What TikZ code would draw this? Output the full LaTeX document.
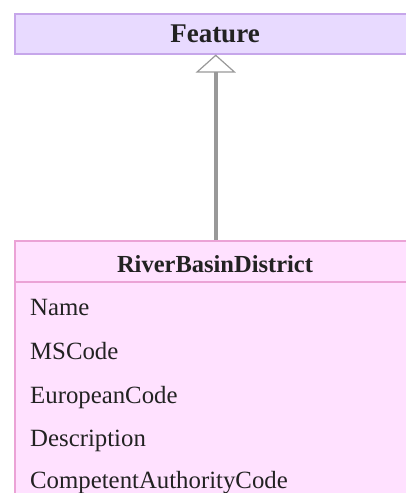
\documentclass[tikz,border=0pt]{standalone}
\usepackage{fontspec}
\setmainfont{Liberation Serif}
\usetikzlibrary{arrows.meta}
\definecolor{featfill}{HTML}{E8DAFF}
\definecolor{featdraw}{HTML}{C6A6EA}
\definecolor{rbdfill}{HTML}{FFE1FF}
\definecolor{rbddraw}{HTML}{EBA3D6}
\definecolor{conn}{HTML}{999999}
\definecolor{txt}{HTML}{222222}
\tikzset{
  classbox/.style={draw, line width=1.5pt, rectangle, inner sep=0pt},
  head/.style={font=\fontsize{24.5}{28}\selectfont\bfseries, text=txt},
  attr/.style={font=\fontsize{24.8}{28}\selectfont, text=txt, anchor=base west, inner sep=0pt},
}
\begin{document}
\begin{tikzpicture}[x=1pt,y=-1pt]
\useasboundingbox (0,0) rectangle (406,493);
\clip (0,0) rectangle (406,493);
\node[classbox, fill=featfill, draw=featdraw, minimum width=402pt, minimum height=40pt, anchor=north west] (feature) at (14,13) {};
\node[head, font=\fontsize{27}{30}\selectfont\bfseries, anchor=base] (featname) at (215,42) {Feature};
\node[classbox, fill=rbdfill, draw=rbddraw, minimum width=402pt, minimum height=280pt, anchor=north west] (rbd) at (14,240) {};
\draw[rbddraw, line width=1.5pt] (rbd.west |- 0,282) coordinate (sepl) -- (rbd.east |- 0,282) coordinate (sepr);
\node[head, anchor=base] (rbdname) at (215,272) {RiverBasinDistrict};
\node[attr] (a1) at (30,315) {Name};
\node[attr] (a2) at (30,359) {MSCode};
\node[attr] (a3) at (30,403) {EuropeanCode};
\node[attr] (a4) at (30,446) {Description};
\node[attr] (a5) at (30,488) {CompetentAuthorityCode};
\draw[conn, line width=4pt, -{Triangle[open, length=18pt, width=40pt, line width=1.2pt, fill=white]}] (rbd.north) -- (feature.south);
\end{tikzpicture}
\end{document}
